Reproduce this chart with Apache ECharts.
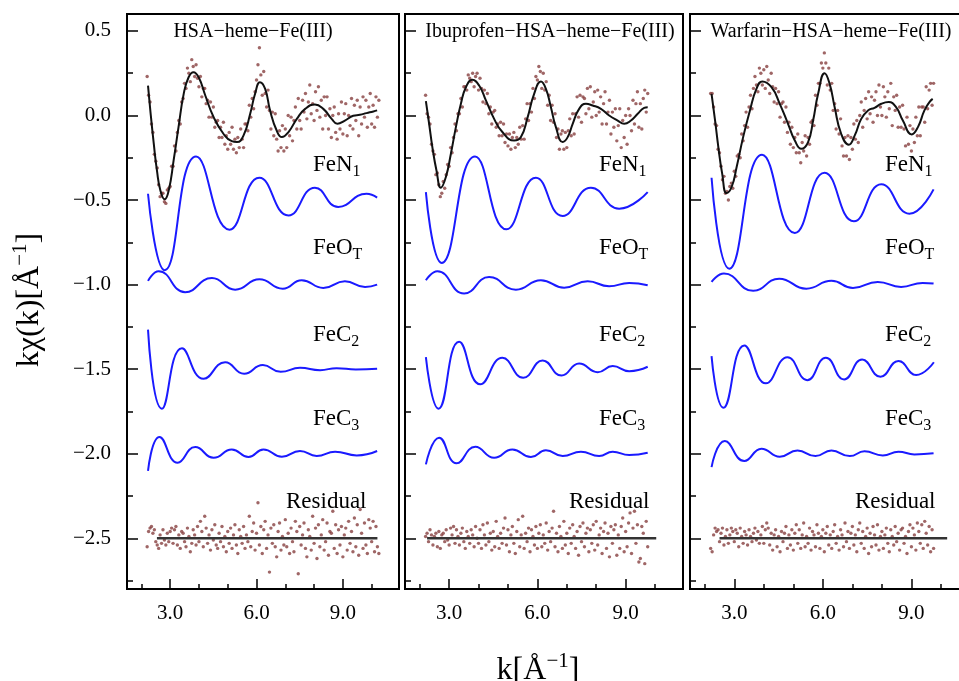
<!DOCTYPE html>
<html>
<head>
<meta charset="utf-8">
<script src="https://cdn.jsdelivr.net/npm/echarts@6/dist/echarts.min.js"></script>
<style>
  html, body { margin: 0; padding: 0; background: #fff; }
  #chart { width: 959px; height: 681px; }
</style>
</head>
<body>
<div id="chart"></div>
<script>
// ---------- data ----------
const panelTitles = ['HSA\u2212heme\u2212Fe(III)', 'Ibuprofen\u2212HSA\u2212heme\u2212Fe(III)', 'Warfarin\u2212HSA\u2212heme\u2212Fe(III)']

const xMajorTicks = [3, 6, 9]
const xMinorTicks = [2, 4, 5, 7, 8, 10]
const yMajorTicks = [-2.5, -2, -1.5, -1, -0.5, 0, 0.5]
const yMinorTicks = [-2.75, -2.25, -1.75, -1.25, -0.75, -0.25, 0.25]

// k values of the measured points (shared by all panels)
const kGrid = [
  2.2,2.25,2.3,2.35,2.4,2.45,2.5,2.55,2.6,2.65,2.7,2.75,2.8,2.85,2.9,2.95,
  3,3.05,3.1,3.15,3.2,3.25,3.3,3.35,3.4,3.45,3.5,3.55,3.6,3.65,3.7,3.75,3.8,3.85,3.9,3.95,
  4,4.05,4.1,4.15,4.2,4.25,4.3,4.35,4.4,4.45,4.5,4.55,4.6,4.65,4.7,4.75,4.8,4.85,4.9,4.95,
  5,5.05,5.1,5.15,5.2,5.25,5.3,5.35,5.4,5.45,5.5,5.55,5.6,5.65,5.7,5.75,5.8,5.85,5.9,5.95,
  6,6.05,6.1,6.15,6.2,6.25,6.3,6.35,6.4,6.45,6.5,6.55,6.6,6.65,6.7,6.75,6.8,6.85,6.9,6.95,
  7,7.05,7.1,7.15,7.2,7.25,7.3,7.35,7.4,7.45,7.5,7.55,7.6,7.65,7.7,7.75,7.8,7.85,7.9,7.95,
  8,8.05,8.1,8.15,8.2,8.25,8.3,8.35,8.4,8.45,8.5,8.55,8.6,8.65,8.7,8.75,8.8,8.85,8.9,8.95,
  9,9.05,9.1,9.15,9.2,9.25,9.3,9.35,9.4,9.45,9.5,9.55,9.6,9.65,9.7,9.75,9.8,9.85,9.9,9.95,
  10,10.05,10.1,10.15,10.2,10.25
]

// --- HSA-heme-Fe(III) ---
const p1Data = [
  0.23,0.12,0.08,-0.05,-0.10,-0.23,-0.27,-0.31,-0.41,-0.48,-0.46,-0.46,-0.51,-0.52,-0.44,-0.43,
  -0.42,-0.30,-0.30,-0.18,-0.21,-0.10,-0.03,-0.05,0.08,0.10,0.19,0.16,0.28,0.25,0.20,0.33,0.29,0.23,0.30,0.22,
  0.17,0.23,0.11,0.16,0.16,0.07,0.09,-0.01,0.08,-0.01,0.05,-0.07,-0.04,-0.03,-0.13,-0.07,-0.13,-0.04,-0.17,-0.12,
  -0.20,-0.10,-0.17,-0.07,-0.20,-0.14,-0.22,-0.13,-0.19,-0.08,-0.14,-0.19,-0.05,-0.05,-0.09,0.06,-0.01,0.10,0.04,0.14,
  0.21,0.30,0.40,0.24,0.12,0.26,0.13,0.05,0.15,0.03,-0.08,0.02,-0.12,0.01,-0.14,-0.21,-0.09,-0.19,-0.06,-0.21,
  -0.08,-0.19,0.00,-0.12,-0.01,-0.15,-0.03,0.05,-0.08,0.10,-0.03,-0.08,0.09,0.02,0.13,-0.02,0.08,0.18,0.01,0.07,
  -0.03,0.14,0.03,0.17,-0.01,0.09,-0.08,0.11,0.00,0.11,-0.08,0.04,-0.13,0.00,0.05,-0.10,-0.14,0.01,-0.08,0.08,
  -0.11,0.01,0.07,-0.12,0.00,-0.06,0.10,-0.08,0.06,-0.03,0.09,-0.12,0.05,-0.05,0.11,-0.01,0.09,-0.07,0.05,0.13,
  -0.05,0.06,-0.07,0.11,-0.01,0.09
]
const p1Resid = [
  -2.55,-2.46,-2.44,-2.43,-2.47,-2.45,-2.52,-2.54,-2.56,-2.48,-2.53,-2.45,-2.51,-2.54,-2.47,-2.52,
  -2.46,-2.44,-2.53,-2.45,-2.43,-2.54,-2.48,-2.56,-2.46,-2.47,-2.52,-2.55,-2.44,-2.49,-2.58,-2.53,-2.45,-2.48,-2.54,-2.43,
  -2.52,-2.40,-2.46,-2.55,-2.37,-2.44,-2.53,-2.48,-2.57,-2.45,-2.51,-2.42,-2.54,-2.56,-2.47,-2.52,-2.43,-2.55,-2.49,-2.58,
  -2.46,-2.53,-2.44,-2.56,-2.48,-2.42,-2.54,-2.59,-2.45,-2.49,-2.53,-2.43,-2.56,-2.48,-2.52,-2.37,-2.55,-2.46,-2.41,-2.57,
  -2.47,-2.29,-2.54,-2.43,-2.59,-2.45,-2.40,-2.56,-2.48,-2.70,-2.44,-2.53,-2.42,-2.55,-2.61,-2.46,-2.41,-2.57,-2.49,-2.54,
  -2.39,-2.55,-2.47,-2.59,-2.44,-2.52,-2.58,-2.40,-2.46,-2.71,-2.43,-2.54,-2.48,-2.41,-2.56,-2.61,-2.45,-2.49,-2.57,-2.37,
  -2.53,-2.44,-2.62,-2.42,-2.55,-2.48,-2.39,-2.57,-2.52,-2.41,-2.60,-2.46,-2.47,-2.34,-2.56,-2.42,-2.59,-2.45,-2.54,-2.43,
  -2.61,-2.48,-2.44,-2.57,-2.40,-2.53,-2.46,-2.58,-2.38,-2.55,-2.42,-2.60,-2.33,-2.47,-2.56,-2.41,-2.54,-2.59,-2.39,-2.44,
  -2.52,-2.40,-2.58,-2.43,-2.55,-2.59
]
const p1Fit = [[2.23,0.177],[2.31,0.03],[2.43,-0.167],[2.54,-0.325],[2.66,-0.443],[2.81,-0.496],[2.95,-0.443],[3.12,-0.266],[3.29,-0.069],[3.47,0.128],[3.64,0.226],[3.81,0.256],[3.99,0.226],[4.22,0.118],[4.51,-0.01],[4.85,-0.108],[5.14,-0.152],[5.32,-0.157],[5.55,-0.118],[5.78,0.01],[5.95,0.128],[6.12,0.197],[6.3,0.157],[6.47,0.03],[6.7,-0.089],[6.88,-0.128],[7.11,-0.098],[7.4,-0.02],[7.69,0.039],[8.03,0.065],[8.32,0.039],[8.61,-0.02],[8.81,-0.049],[9.07,-0.03],[9.36,-0.002],[9.59,0.004],[9.82,0.014],[10.06,0.024],[10.19,0.03]]
const p1FeN1 = [[2.23,-0.463],[2.81,-0.915],[3.9,-0.242],[5.06,-0.675],[6.1,-0.368],[7.11,-0.591],[8.03,-0.427],[8.84,-0.541],[9.82,-0.463],[10.19,-0.486]]
const p1FeOT = [[2.23,-0.978],[2.6,-0.921],[3.52,-1.045],[4.45,-0.961],[5.26,-1.03],[6.1,-0.969],[6.91,-1.024],[7.57,-0.974],[8.32,-1.02],[9.07,-0.98],[9.77,-1.014],[10.19,-1.0]]
const p1FeC2 = [[2.23,-1.266],[2.71,-1.734],[3.41,-1.377],[4.16,-1.557],[4.91,-1.459],[5.57,-1.527],[6.22,-1.476],[6.84,-1.516],[7.51,-1.492],[8.21,-1.506],[8.78,-1.494],[9.45,-1.502],[10.19,-1.498]]
const p1FeC3 = [[2.23,-2.102],[2.63,-1.901],[3.26,-2.053],[3.87,-1.961],[4.51,-2.024],[5.14,-1.975],[5.72,-2.02],[6.24,-1.975],[6.88,-2.018],[7.51,-1.984],[8.09,-2.013],[8.73,-1.988],[9.48,-2.01],[10.19,-1.984]]
const p1ResLine = [[2.54,-2.5],[10.2,-2.5]]

// --- Ibuprofen-HSA-heme-Fe(III) ---
const p2Data = [
  0.12,0.01,-0.01,-0.05,-0.17,-0.21,-0.23,-0.35,-0.34,-0.41,-0.48,-0.46,-0.39,-0.43,-0.35,-0.29,
  -0.30,-0.19,-0.22,-0.13,-0.05,-0.09,0.01,0.01,0.10,0.05,0.17,0.17,0.15,0.24,0.22,0.20,0.25,0.17,0.23,0.25,
  0.15,0.22,0.16,0.08,0.15,0.07,0.13,0.01,0.05,-0.05,0.02,0.03,-0.07,-0.05,-0.12,-0.04,-0.12,-0.05,-0.16,-0.11,
  -0.18,-0.11,-0.20,-0.13,-0.10,-0.19,-0.13,-0.17,-0.07,-0.14,-0.06,-0.14,-0.02,0.07,-0.03,0.07,0.02,0.16,0.10,0.23,
  0.21,0.29,0.26,0.16,0.25,0.15,0.20,0.06,0.12,-0.03,0.06,-0.04,0.01,-0.13,-0.08,-0.20,-0.11,-0.09,-0.20,-0.10,
  -0.19,-0.09,-0.02,-0.12,0.01,-0.11,0.01,0.11,-0.01,0.12,-0.04,0.11,0.10,0.01,0.16,0.04,0.17,-0.01,0.08,0.14,
  0.00,0.15,0.02,0.11,-0.05,0.07,0.14,-0.05,0.02,0.09,-0.11,0.02,-0.07,0.04,-0.15,-0.06,0.04,-0.19,-0.03,-0.13,
  0.00,-0.17,0.04,0.00,-0.09,0.09,-0.05,0.07,0.14,-0.07,0.07,-0.08,0.10,0.15,0.02,0.13
]
const p2Resid = [
  -2.49,-2.47,-2.52,-2.45,-2.48,-2.54,-2.49,-2.47,-2.55,-2.46,-2.56,-2.48,-2.47,-2.52,-2.45,-2.51,
  -2.54,-2.44,-2.48,-2.43,-2.53,-2.45,-2.49,-2.54,-2.47,-2.44,-2.52,-2.56,-2.46,-2.49,-2.53,-2.45,-2.48,-2.55,-2.43,-2.50,
  -2.53,-2.45,-2.56,-2.42,-2.48,-2.54,-2.41,-2.52,-2.47,-2.57,-2.46,-2.55,-2.40,-2.49,-2.56,-2.47,-2.53,-2.44,-2.38,-2.54,
  -2.45,-2.58,-2.48,-2.43,-2.53,-2.59,-2.46,-2.39,-2.55,-2.48,-2.37,-2.56,-2.47,-2.52,-2.44,-2.58,-2.45,-2.49,-2.54,-2.43,
  -2.56,-2.47,-2.42,-2.55,-2.48,-2.53,-2.41,-2.57,-2.46,-2.52,-2.44,-2.34,-2.55,-2.47,-2.58,-2.43,-2.49,-2.56,-2.40,-2.54,
  -2.47,-2.59,-2.44,-2.53,-2.42,-2.49,-2.56,-2.46,-2.60,-2.43,-2.52,-2.41,-2.55,-2.47,-2.44,-2.58,-2.45,-2.53,-2.42,-2.57,
  -2.40,-2.54,-2.48,-2.44,-2.59,-2.46,-2.41,-2.56,-2.47,-2.61,-2.43,-2.53,-2.45,-2.42,-2.60,-2.48,-2.56,-2.43,-2.38,-2.58,
  -2.46,-2.55,-2.41,-2.35,-2.59,-2.44,-2.34,-2.53,-2.42,-2.64,-2.62,-2.43,-2.47,-2.65,-2.40,-2.55
]
const p2Fit = [[2.21,0.085],[2.32,-0.049],[2.43,-0.187],[2.57,-0.325],[2.72,-0.427],[2.89,-0.364],[3.06,-0.226],[3.23,-0.069],[3.4,0.069],[3.57,0.167],[3.79,0.211],[4.02,0.177],[4.25,0.089],[4.53,-0.02],[4.81,-0.098],[5.21,-0.148],[5.44,-0.128],[5.67,-0.01],[5.89,0.128],[6.12,0.201],[6.29,0.157],[6.46,0.049],[6.63,-0.069],[6.86,-0.157],[7.03,-0.128],[7.2,-0.049],[7.42,0.039],[7.65,0.069],[7.88,0.059],[8.16,0.039],[8.44,0.0],[8.73,-0.03],[8.95,-0.049],[9.18,-0.03],[9.41,0.01],[9.63,0.045],[9.75,0.049]]
const p2FeN1 = [[2.21,-0.453],[2.75,-0.872],[3.88,-0.242],[4.95,-0.673],[5.95,-0.368],[6.86,-0.594],[7.82,-0.427],[8.78,-0.551],[9.75,-0.453]]
const p2FeOT = [[2.21,-0.974],[2.6,-0.921],[3.51,-1.053],[4.36,-0.955],[5.27,-1.03],[6.12,-0.974],[6.91,-1.018],[7.71,-0.98],[8.44,-1.01],[9.12,-0.99],[9.75,-1.004]]
const p2FeC2 = [[2.21,-1.429],[2.64,-1.734],[3.34,-1.338],[4.06,-1.59],[4.81,-1.433],[5.52,-1.551],[6.18,-1.449],[6.82,-1.538],[7.42,-1.467],[8.05,-1.518],[8.56,-1.482],[9.12,-1.512],[9.75,-1.486]]
const p2FeC3 = [[2.21,-2.063],[2.66,-1.905],[3.25,-2.057],[3.89,-1.959],[4.53,-2.024],[5.15,-1.975],[5.78,-2.02],[6.29,-1.98],[6.86,-2.014],[7.48,-1.988],[8.1,-2.014],[8.56,-1.988],[9.12,-2.008],[9.75,-1.994]]
const p2ResLine = [[2.25,-2.5],[10.04,-2.5]]

// --- Warfarin-HSA-heme-Fe(III) ---
const p3Data = [
  0.13,0.13,0.05,-0.05,-0.06,-0.20,-0.22,-0.30,-0.38,-0.36,-0.46,-0.45,-0.50,-0.42,-0.40,-0.43,
  -0.33,-0.36,-0.24,-0.23,-0.25,-0.11,-0.15,-0.06,0.02,-0.07,0.05,0.12,0.04,0.16,0.23,0.18,0.14,0.28,0.25,0.18,
  0.27,0.16,0.29,0.21,0.13,0.25,0.17,0.08,0.16,0.07,0.14,-0.01,0.07,0.08,-0.04,0.05,-0.10,-0.04,-0.17,-0.07,
  -0.19,-0.13,-0.22,-0.11,-0.22,-0.28,-0.16,-0.21,-0.12,-0.24,-0.13,-0.17,-0.04,-0.03,-0.06,0.12,0.06,0.19,0.19,0.31,
  0.28,0.37,0.31,0.18,0.28,0.15,0.19,0.03,0.07,-0.08,0.03,-0.11,-0.02,-0.18,-0.24,-0.13,-0.24,-0.12,-0.26,-0.13,
  -0.20,-0.05,-0.14,-0.03,-0.16,0.00,0.08,-0.07,0.03,0.10,-0.02,0.14,0.01,0.11,-0.04,0.09,0.14,0.00,0.18,0.05,
  0.00,0.17,0.11,-0.01,0.14,0.04,0.19,-0.06,0.11,0.03,0.12,-0.07,0.05,-0.07,0.06,-0.08,-0.18,-0.01,-0.17,-0.06,
  -0.21,-0.08,-0.16,-0.01,-0.12,0.05,-0.12,0.05,0.05,-0.04,0.17,0.04,0.15,0.19,0.06,0.19
]
const p3Resid = [
  -2.56,-2.58,-2.48,-2.44,-2.46,-2.45,-2.52,-2.47,-2.44,-2.54,-2.49,-2.45,-2.53,-2.48,-2.44,-2.46,
  -2.52,-2.45,-2.47,-2.55,-2.44,-2.49,-2.53,-2.46,-2.48,-2.54,-2.45,-2.49,-2.52,-2.47,-2.44,-2.51,-2.46,-2.53,-2.48,-2.43,
  -2.53,-2.45,-2.41,-2.44,-2.54,-2.47,-2.57,-2.48,-2.45,-2.55,-2.49,-2.58,-2.46,-2.52,-2.47,-2.43,-2.56,-2.48,-2.54,-2.45,
  -2.57,-2.47,-2.42,-2.53,-2.45,-2.56,-2.48,-2.41,-2.55,-2.49,-2.53,-2.44,-2.57,-2.46,-2.48,-2.55,-2.42,-2.47,-2.56,-2.49,
  -2.45,-2.58,-2.47,-2.43,-2.54,-2.48,-2.56,-2.46,-2.42,-2.53,-2.49,-2.57,-2.45,-2.48,-2.55,-2.41,-2.52,-2.46,-2.56,-2.47,
  -2.43,-2.54,-2.48,-2.58,-2.45,-2.41,-2.53,-2.46,-2.56,-2.49,-2.44,-2.59,-2.47,-2.55,-2.43,-2.48,-2.54,-2.42,-2.57,-2.49,
  -2.46,-2.56,-2.48,-2.44,-2.53,-2.58,-2.45,-2.49,-2.54,-2.43,-2.52,-2.47,-2.57,-2.45,-2.44,-2.53,-2.49,-2.59,-2.46,-2.42,
  -2.55,-2.44,-2.48,-2.57,-2.41,-2.46,-2.53,-2.42,-2.56,-2.40,-2.47,-2.54,-2.43,-2.58,-2.45,-2.56
]
const p3Fit = [[2.23,0.128],[2.35,-0.03],[2.46,-0.187],[2.59,-0.344],[2.74,-0.459],[2.91,-0.423],[3.08,-0.305],[3.3,-0.128],[3.53,0.03],[3.75,0.157],[3.95,0.201],[4.26,0.167],[4.54,0.069],[4.82,-0.049],[5.05,-0.148],[5.27,-0.197],[5.5,-0.157],[5.67,-0.03],[5.84,0.128],[6.06,0.25],[6.23,0.187],[6.4,0.049],[6.62,-0.108],[6.88,-0.173],[7.08,-0.118],[7.3,-0.02],[7.53,0.03],[7.75,0.045],[7.98,0.069],[8.23,0.079],[8.48,0.049],[8.71,-0.03],[9.01,-0.112],[9.22,-0.069],[9.44,0.03],[9.61,0.079],[9.72,0.098]]
const p3FeN1 = [[2.23,-0.368],[2.83,-0.906],[3.94,-0.232],[5.05,-0.695],[6.06,-0.339],[7.05,-0.626],[7.98,-0.407],[8.93,-0.581],[9.75,-0.437]]
const p3FeOT = [[2.23,-0.984],[2.65,-0.935],[3.64,-1.037],[4.52,-0.965],[5.44,-1.024],[6.29,-0.978],[7.02,-1.02],[7.86,-0.984],[8.65,-1.014],[9.38,-0.99],[9.75,-0.994]]
const p3FeC2 = [[2.23,-1.423],[2.63,-1.728],[3.34,-1.36],[4.07,-1.584],[4.8,-1.429],[5.47,-1.565],[6.1,-1.433],[6.72,-1.561],[7.33,-1.443],[7.95,-1.545],[8.56,-1.452],[9.16,-1.535],[9.76,-1.459]]
const p3FeC3 = [[2.23,-2.079],[2.68,-1.925],[3.34,-2.043],[3.92,-1.97],[4.54,-2.018],[5.14,-1.981],[5.75,-2.014],[6.29,-1.981],[6.91,-2.014],[7.41,-1.986],[8.03,-2.01],[8.56,-1.988],[9.1,-2.004],[9.75,-1.998]]
const p3ResLine = [[2.5,-2.5],[10.21,-2.5]]

// ---------- layout / style ----------
const SERIF = '"Liberation Serif", "Times New Roman", serif'
const DOT = '#874040'
const BLUE = '#1a1aff'

const panels = [
  { left: 127, width: 272, titleX: 253, labelX: 313, residX: 286,
    data: p1Data, resid: p1Resid, fit: p1Fit, comps: [p1FeN1, p1FeOT, p1FeC2, p1FeC3], resLine: p1ResLine },
  { left: 405, width: 278, titleX: 550, labelX: 599, residX: 569,
    data: p2Data, resid: p2Resid, fit: p2Fit, comps: [p2FeN1, p2FeOT, p2FeC2, p2FeC3], resLine: p2ResLine },
  // the right panel runs past the picture edge, as in the original figure
  { left: 690, width: 279, titleX: 831, labelX: 885, residX: 855,
    data: p3Data, resid: p3Resid, fit: p3Fit, comps: [p3FeN1, p3FeOT, p3FeC2, p3FeC3], resLine: p3ResLine },
]

const fmt = v => (v < 0 ? '\u2212' : '') + Math.abs(v).toFixed(1)
const toPairs = arr => arr.map((y, i) => [kGrid[i], y])
const tickLine = { color: '#000', width: 1.5 }

const grid = [], xAxis = [], yAxis = [], series = [], graphic = []

panels.forEach((p, i) => {
  grid.push({ left: p.left, top: 14, width: p.width, height: 575, show: true,
    borderColor: '#000', borderWidth: 2, outerBoundsMode: 'none', containLabel: false })

  const xBase = { gridIndex: i, type: 'value', min: 1.5, max: 10.95, position: 'bottom',
    axisLine: { show: false, onZero: false }, splitLine: { show: false } }
  xAxis.push(Object.assign({}, xBase, {
    axisTick: { inside: true, length: 10, customValues: xMajorTicks, lineStyle: tickLine },
    axisLabel: { customValues: xMajorTicks, formatter: fmt, fontFamily: SERIF, fontSize: 21, color: '#000', margin: 14 },
  }))
  xAxis.push(Object.assign({}, xBase, {
    axisTick: { inside: true, length: 5, customValues: xMinorTicks, lineStyle: tickLine },
    axisLabel: { show: false },
  }))

  const yBase = { gridIndex: i, type: 'value', min: -2.8, max: 0.6, position: 'left',
    axisLine: { show: false, onZero: false }, splitLine: { show: false } }
  yAxis.push(Object.assign({}, yBase, {
    axisTick: { inside: true, length: 11, customValues: yMajorTicks, lineStyle: tickLine },
    axisLabel: { show: i === 0, customValues: yMajorTicks, formatter: fmt, fontFamily: SERIF, fontSize: 21, color: '#000', margin: 16 },
  }))
  yAxis.push(Object.assign({}, yBase, {
    axisTick: { inside: true, length: 6, customValues: yMinorTicks, lineStyle: tickLine },
    axisLabel: { show: false },
  }))

  const ax = { xAxisIndex: i * 2, yAxisIndex: i * 2 }
  const dots = d => Object.assign({ type: 'scatter', data: d, symbol: 'circle', symbolSize: 3.4,
    itemStyle: { color: DOT }, z: 2, silent: true }, ax)
  const line = (d, color, width) => Object.assign({ type: 'line', data: d, smooth: true, showSymbol: false,
    lineStyle: { color, width }, z: 3, silent: true }, ax)

  series.push(dots(toPairs(p.data)))
  series.push(dots(toPairs(p.resid)))
  series.push(line(p.fit, '#111', 2))
  p.comps.forEach(c => series.push(line(c, BLUE, 2)))
  series.push(Object.assign(line(p.resLine, '#333', 2.5), { smooth: false }))

  // panel title
  graphic.push({ type: 'text', x: p.titleX, y: 19, silent: true,
    style: { text: '{t|' + panelTitles[i] + '}', align: 'center', verticalAlign: 'top',
      rich: { t: { fontSize: 20, lineHeight: 25, fontFamily: SERIF, fill: '#000' } } } })

  // component labels (baseline positions in px)
  const lab = (x, base, main, sub) => ({ type: 'text', x, y: base - 23, silent: true,
    style: { text: '{m|' + main + '}' + (sub ? '{s|' + sub + '}' : ''), align: 'left', verticalAlign: 'top',
      rich: { m: { fontSize: 23, lineHeight: 30, fontFamily: SERIF, fill: '#000' },
              s: { fontSize: 16, lineHeight: 12, verticalAlign: 'bottom', fontFamily: SERIF, fill: '#000' } } } })
  graphic.push(lab(p.labelX, 173, 'FeN', '1'))
  graphic.push(lab(p.labelX, 256, 'FeO', 'T'))
  graphic.push(lab(p.labelX, 343, 'FeC', '2'))
  graphic.push(lab(p.labelX, 427, 'FeC', '3'))
  graphic.push(lab(p.residX, 510, 'Residual'))
})

// axis titles
const titleRich = {
  a: { fontSize: 32, lineHeight: 40, fontFamily: SERIF, fill: '#000' },
  s: { fontSize: 21, lineHeight: 24, verticalAlign: 'top', fontFamily: SERIF, fill: '#000' },
}
graphic.push({ type: 'text', x: 30, y: 300, rotation: Math.PI / 2, silent: true,
  style: { text: '{a|k\u03c7(k)[\u00c5}{s|\u22121}{a|]}', align: 'center', verticalAlign: 'middle', rich: titleRich } })
graphic.push({ type: 'text', x: 538, y: 651, silent: true,
  style: { text: '{a|k[\u00c5}{s|\u22121}{a|]}', align: 'center', verticalAlign: 'top', rich: titleRich } })

const chart = echarts.init(document.getElementById('chart'))
chart.setOption({
  animation: false,
  backgroundColor: '#fff',
  grid, xAxis, yAxis, series,
  graphic: { elements: graphic },
})
</script>
</body>
</html>
